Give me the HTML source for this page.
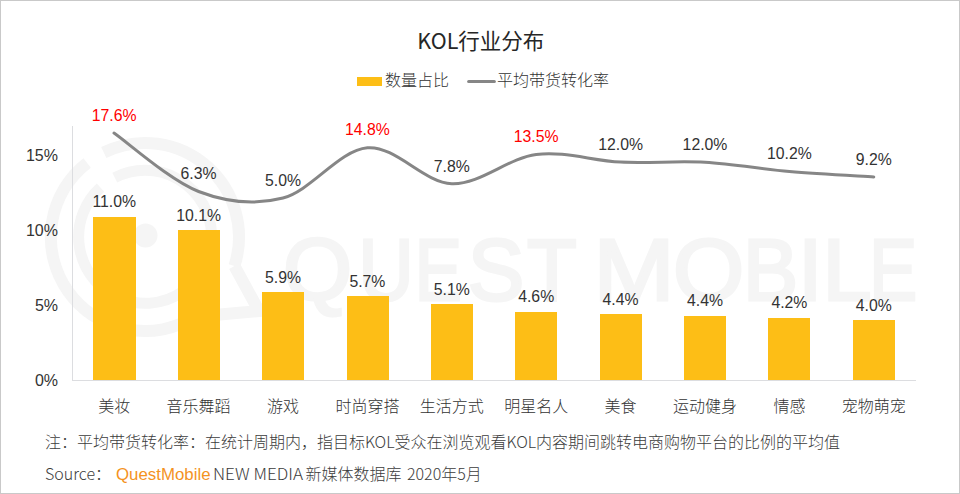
<!DOCTYPE html>
<html lang="zh-CN">
<head>
<meta charset="utf-8">
<title>KOL行业分布</title>
<style>
html,body{margin:0;padding:0;background:#fff;}
body{width:960px;height:494px;overflow:hidden;position:relative;}
.frame{position:absolute;left:0;top:0;width:960px;height:494px;box-sizing:border-box;border:1px solid #c9c9c9;}
svg{position:absolute;left:0;top:0;}
.num{font-family:"Liberation Sans",Arial,sans-serif;font-size:15.8px;fill:#333333;}
.red{fill:#ff0000;}
.ax{font-family:"Liberation Sans",Arial,sans-serif;font-size:16px;fill:#333333;}
.cat{font-family:"Liberation Sans","Noto Sans CJK SC",sans-serif;font-size:16px;font-weight:300;fill:#333333;}
.ttl{font-family:"Noto Sans CJK SC",sans-serif;font-size:21.5px;fill:#262626;}
.lg{font-family:"Noto Sans CJK SC",sans-serif;font-size:16px;font-weight:300;fill:#333333;}
.ft{font-family:"Noto Sans CJK SC",sans-serif;font-size:16px;font-weight:300;fill:#3c3c3c;}
.qm{font-family:"Liberation Sans",sans-serif;font-size:16.5px;fill:#f4931f;}
.wm{font-family:"Liberation Sans",sans-serif;font-size:88px;fill:#f5f5f5;stroke:#f5f5f5;stroke-width:3px;}
</style>
</head>
<body>
<svg width="960" height="494" viewBox="0 0 960 494">
  <!-- watermark -->
  <g fill="none" stroke="#f5f5f5" stroke-width="12">
    <path d="M103.8,152.5 A94,94 0 0 1 234.4,266.0"/>
    <path d="M194.8,316.7 A94,94 0 0 1 87.1,162.9"/>
    <path d="M234.4,266.0 L259,311 L194.8,316.7" stroke-linejoin="miter" stroke-miterlimit="10"/>
  </g>
  <path d="M114.8,177.7 A66.5,66.5 0 1 1 100.5,187.6" fill="none" stroke="#f5f5f5" stroke-width="11"/>
  <circle cx="145.5" cy="235.5" r="12" fill="#f5f5f5"/>
  <g class="wm">
  <text transform="translate(283.1,299.6) scale(1.009,1)">Q</text>
  <text transform="translate(358.5,299.6) scale(0.868,1)">U</text>
  <text transform="translate(414.8,299.6) scale(0.801,1)">E</text>
  <text transform="translate(467.8,299.6) scale(0.963,1)">S</text>
  <text transform="translate(527.1,299.6) scale(0.924,1)">T</text>
  <text transform="translate(593.4,299.6) scale(1.106,1)">M</text>
  <text transform="translate(672.9,299.6) scale(1.041,1)">O</text>
  <text transform="translate(743.0,299.6) scale(0.941,1)">B</text>
  <text transform="translate(798.1,299.6) scale(1.002,1)">I</text>
  <text transform="translate(822.4,299.6) scale(1.002,1)">L</text>
  <text transform="translate(869.3,299.6) scale(0.815,1)">E</text>
  </g>

  <!-- title -->
  <text class="ttl" x="480.8" y="48.7" text-anchor="middle">KOL行业分布</text>

  <!-- legend -->
  <rect x="357" y="77" width="25" height="9" fill="#fdbe16"/>
  <text class="lg" x="385" y="86.2">数量占比</text>
  <line x1="468.6" y1="81.5" x2="494.4" y2="81.5" stroke="#868686" stroke-width="3" stroke-linecap="round"/>
  <text class="lg" x="497" y="86.2">平均带货转化率</text>

  <!-- axes -->
  <rect x="72" y="126" width="1" height="255" fill="#dcdde0"/>
  <rect x="72" y="380" width="844" height="1" fill="#dcdde0"/>

  <!-- y axis labels -->
  <g class="ax" text-anchor="end">
    <text x="58" y="161">15%</text>
    <text x="58" y="236">10%</text>
    <text x="58" y="311">5%</text>
    <text x="58" y="386">0%</text>
  </g>

  <!-- bars -->
  <g fill="#fdbe16" shape-rendering="crispEdges">
    <rect x="93" y="217" width="43" height="163"/>
    <rect x="178" y="230" width="42" height="150"/>
    <rect x="262" y="292" width="42" height="88"/>
    <rect x="347" y="296" width="42" height="84"/>
    <rect x="431" y="304" width="42" height="76"/>
    <rect x="515" y="312" width="42" height="68"/>
    <rect x="600" y="314" width="42" height="66"/>
    <rect x="684" y="316" width="42" height="64"/>
    <rect x="768" y="318" width="42" height="62"/>
    <rect x="853" y="320" width="42" height="60"/>
  </g>

  <!-- bar labels -->
  <g class="num" text-anchor="middle">
    <text x="114.2" y="207.3">11.0%</text>
    <text x="198.6" y="221">10.1%</text>
    <text x="283.0" y="283">5.9%</text>
    <text x="367.4" y="286.5">5.7%</text>
    <text x="451.8" y="294.8">5.1%</text>
    <text x="536.2" y="302">4.6%</text>
    <text x="620.6" y="304.8">4.4%</text>
    <text x="705.0" y="306.3">4.4%</text>
    <text x="789.4" y="308">4.2%</text>
    <text x="873.8" y="311">4.0%</text>
  </g>

  <!-- line -->
  <path d="M114.00,133.10 C128.10,142.83 170.43,180.68 198.60,191.50 C226.77,202.32 254.87,205.28 283.00,198.00 C311.13,190.72 339.27,150.18 367.40,147.80 C395.53,145.42 423.67,182.60 451.80,183.70 C479.93,184.80 508.07,158.00 536.20,154.40 C564.33,150.80 592.47,160.78 620.60,162.10 C648.73,163.42 676.87,160.72 705.00,162.30 C733.13,163.88 761.27,169.15 789.40,171.60 C817.53,174.05 859.73,176.10 873.80,177.00" fill="none" stroke="#868686" stroke-width="3" stroke-linecap="round"/>

  <!-- line labels -->
  <g class="num" text-anchor="middle">
    <text class="num red" x="114.2" y="121">17.6%</text>
    <text x="198.6" y="179">6.3%</text>
    <text x="283.0" y="186">5.0%</text>
    <text class="num red" x="367.4" y="135">14.8%</text>
    <text x="451.8" y="171.6">7.8%</text>
    <text class="num red" x="536.2" y="142">13.5%</text>
    <text x="620.6" y="150">12.0%</text>
    <text x="705.0" y="150">12.0%</text>
    <text x="789.4" y="159">10.2%</text>
    <text x="873.8" y="165">9.2%</text>
  </g>

  <!-- category labels -->
  <g class="cat" text-anchor="middle">
    <text x="114.2" y="412">美妆</text>
    <text x="198.6" y="412">音乐舞蹈</text>
    <text x="283.0" y="412">游戏</text>
    <text x="367.4" y="412">时尚穿搭</text>
    <text x="451.8" y="412">生活方式</text>
    <text x="536.2" y="412">明星名人</text>
    <text x="620.6" y="412">美食</text>
    <text x="705.0" y="412">运动健身</text>
    <text x="789.4" y="412">情感</text>
    <text x="873.8" y="412">宠物萌宠</text>
  </g>

  <!-- footer -->
  <text class="ft" x="45" y="447.7" textLength="795" lengthAdjust="spacing">注：平均带货转化率：在统计周期内，指目标KOL受众在浏览观看KOL内容期间跳转电商购物平台的比例的平均值</text>
  <text class="ft" x="45" y="479.8">Source：</text>
  <text class="qm" x="116" y="479.8" textLength="94.5" lengthAdjust="spacingAndGlyphs">QuestMobile</text>
  <text class="ft" x="213" y="479.8" textLength="90" lengthAdjust="spacingAndGlyphs">NEW MEDIA</text>
  <text class="ft" x="305.5" y="479.8">新媒体数据库</text>
  <text class="ft" x="407" y="479.8">2020年5月</text>
</svg>
<div class="frame"></div>
</body>
</html>
